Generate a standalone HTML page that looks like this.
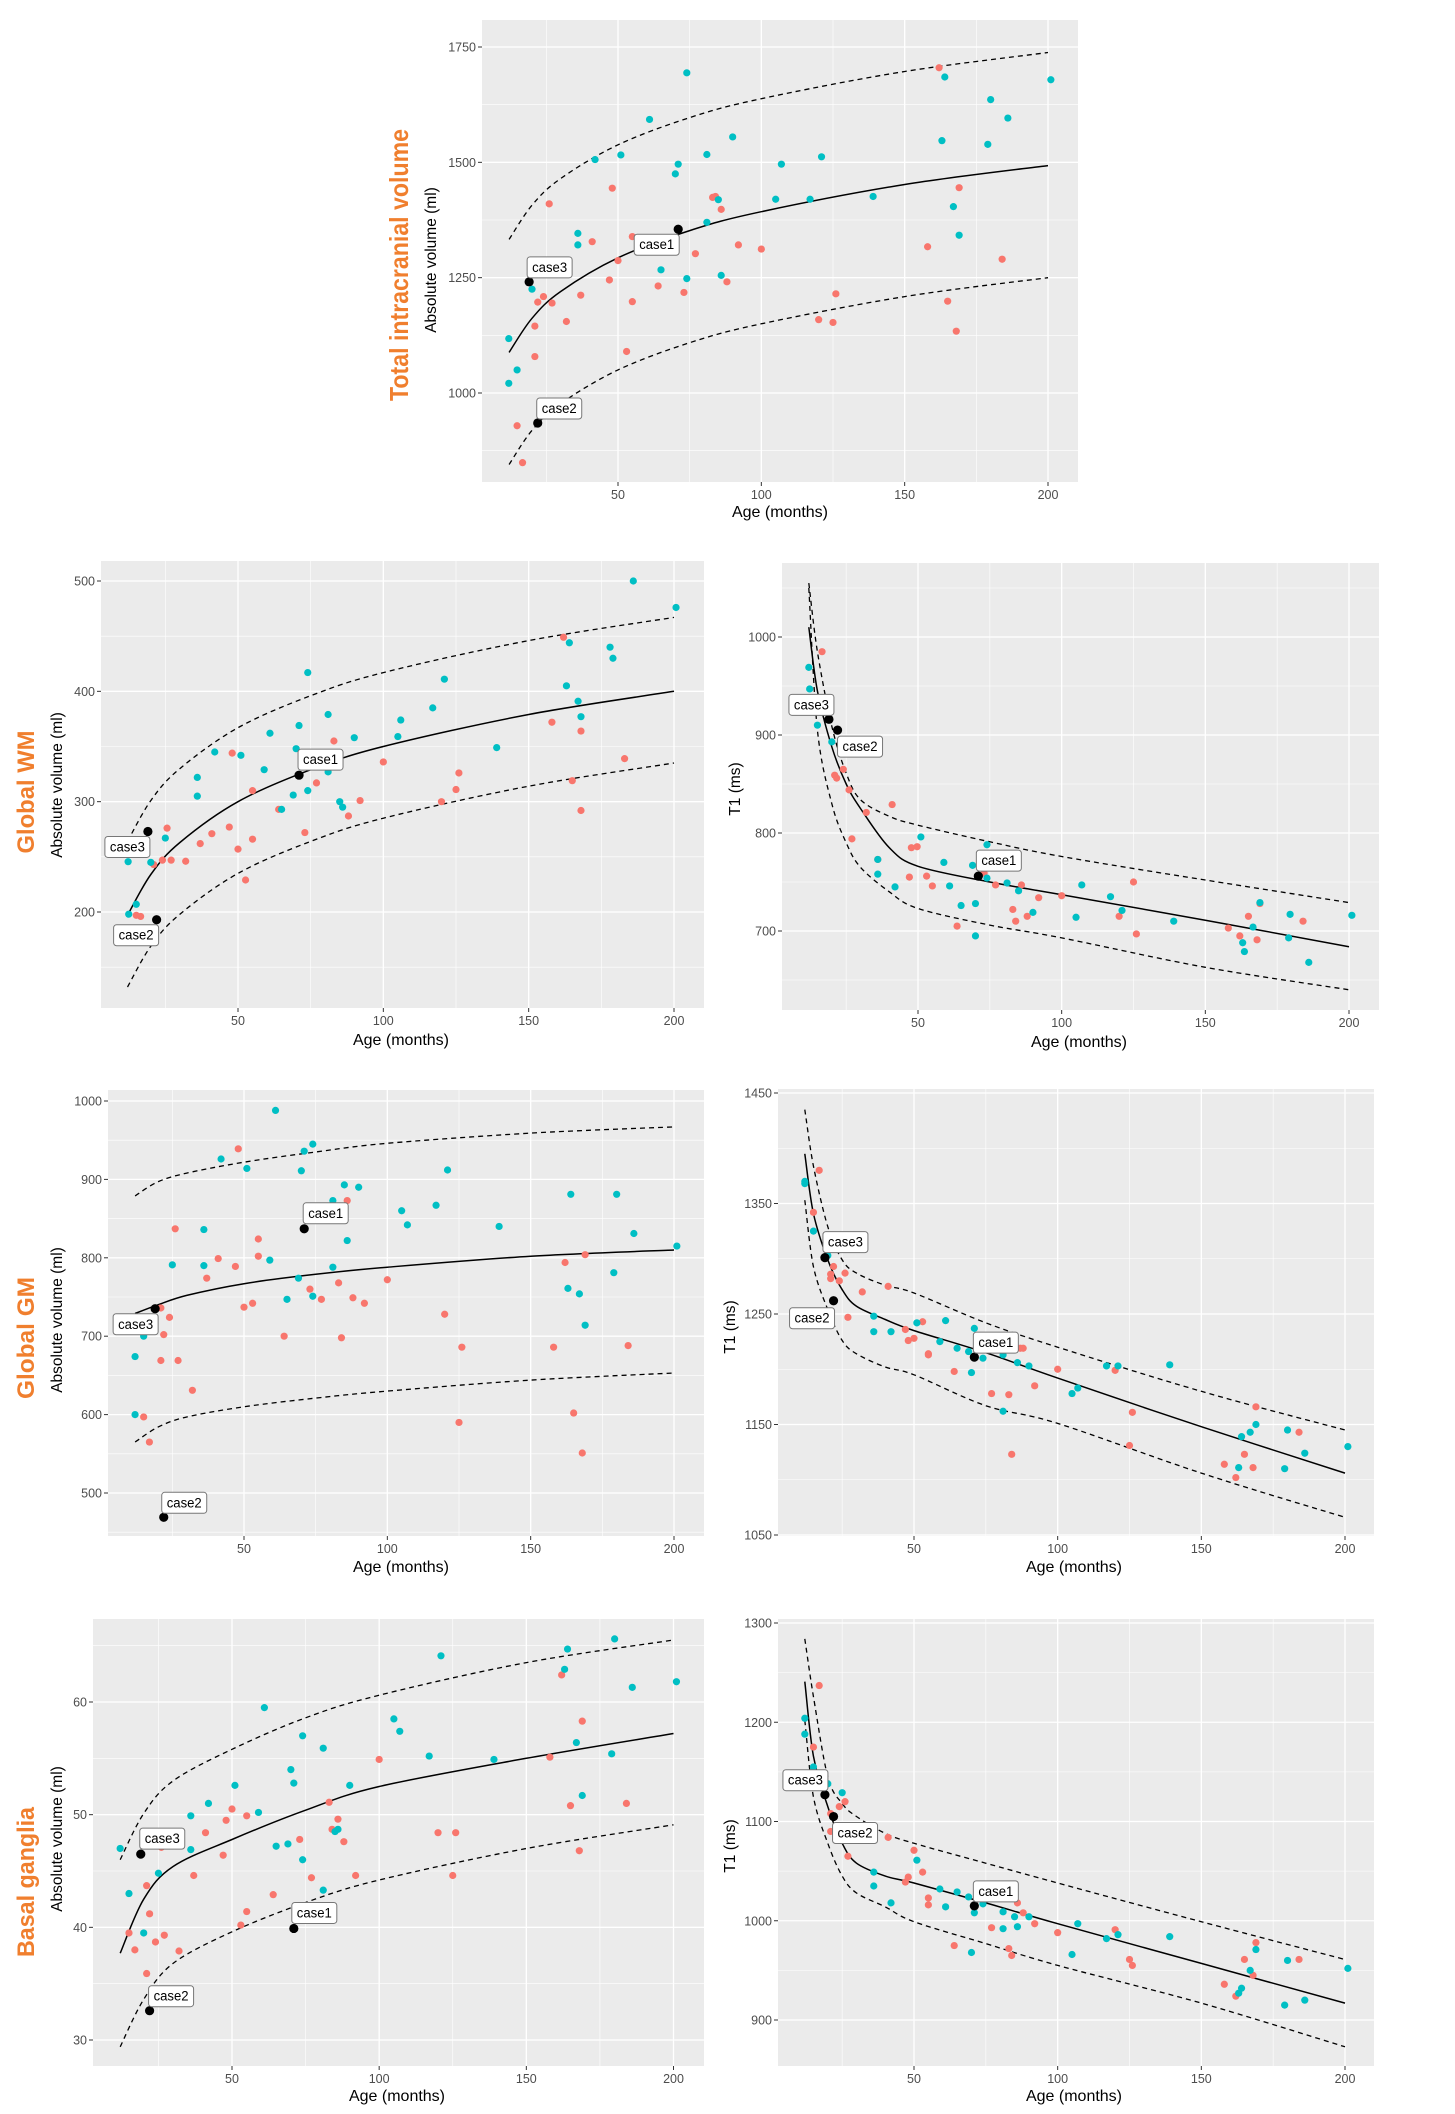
<!DOCTYPE html>
<html><head><meta charset="utf-8"><title>Brain volume and T1 charts</title>
<style>
html,body{margin:0;padding:0;background:#fff;}
svg{display:block;font-family:"Liberation Sans",Arial,sans-serif;}
</style></head>
<body>
<svg id="fig" width="1455" height="2114" viewBox="0 0 1455 2114" xmlns="http://www.w3.org/2000/svg">
<rect x="0" y="0" width="1455" height="2114" fill="#fff"/>
<text transform="translate(408,265) rotate(-90)" text-anchor="middle" font-size="26" font-weight="bold" fill="#F07F2E" textLength="272" lengthAdjust="spacingAndGlyphs">Total intracranial volume</text>
<text transform="translate(34,792) rotate(-90)" text-anchor="middle" font-size="24" font-weight="bold" fill="#F07F2E" textLength="123" lengthAdjust="spacingAndGlyphs">Global WM</text>
<text transform="translate(34,1338) rotate(-90)" text-anchor="middle" font-size="24" font-weight="bold" fill="#F07F2E" textLength="122" lengthAdjust="spacingAndGlyphs">Global GM</text>
<text transform="translate(34,1882) rotate(-90)" text-anchor="middle" font-size="24" font-weight="bold" fill="#F07F2E" textLength="150" lengthAdjust="spacingAndGlyphs">Basal ganglia</text>
</svg>
<script>
// ---------- DATA ----------
// Total intracranial volume
const tivCyanAge=[11.9,14.8,11.9,20,36,36,42,51,61,74,70,71,81,81,85,90,65,74,86,105,107,117,121,139,164,163,167,169,179,180,186,201];
const tivCyanVal=[1118,1050,1021,1225,1346,1321,1506,1516,1593,1694,1475,1496,1517,1370,1419,1555,1267,1248,1255,1420,1496,1420,1512,1426,1685,1547,1404,1342,1539,1636,1596,1679];
const tivRedAge=[14.8,16.7,21,21,22,24,26,27,32,37,41,47,48,50,53,55,55,64,73,77,83,84,86,88,92,100,120,125,126,158,162,165,168,169,184];
const tivRedVal=[929,849,1145,1079,1197,1209,1410,1195,1155,1212,1328,1245,1444,1287,1090,1339,1198,1232,1218,1302,1424,1426,1398,1241,1321,1312,1159,1153,1215,1317,1705,1199,1134,1445,1290];
const tivCaseAge=[71,22,19];
const tivCaseVal=[1355,935,1241];
const tivCurveAge=[12,20,30,50,75,100,150,200];
const tivMean=[1088,1162,1220,1293,1352,1393,1452,1493];
const tivUpper=[1333,1407,1465,1538,1597,1638,1697,1738];
const tivLower=[845,919,977,1050,1109,1150,1209,1250];
const tivYTicks=[1000,1250,1500,1750];

// Global WM volume
const wmvCyanAge=[12.2,15,12.4,20,25,36,36,42,51,59,61,65,69,70,71,74,74,81,81,85,86,90,105,106,117,121,139,163,164,167,168,178,179,186,200.7];
const wmvCyanVal=[245.6,207,198,245,267,322,305,345,342,329,362,293,306,348,369,417,310,327,379,300,295,358,359,374,385,411,349,405,444,391,377,440,430,500,476];
const wmvRedAge=[15,16.5,21,24,25.6,27,32,37,41,47,48,50,52.6,55,55,64,73,77,83,85,88,92,100,120,125,126,158,162,165,168,168,183];
const wmvRedVal=[197,196,243,247,276,247,246,262,271,277,344,257,229,266,310,293,272,317,355,332,287,301,336,300,311,326,372,449,319,292,364,339];
const wmvCaseAge=[71,22,19];
const wmvCaseVal=[324,193,273];
const wmvCurveAge=[12,20,30,50,75,100,150,200];
const wmvMean=[197,234,263,300,329,350,379,400];
const wmvUpper=[264,301,330,367,396,417,446,467];
const wmvLower=[132,169,198,235,264,285,314,335];
const wmvYTicks=[200,300,400,500];

// Global WM T1
const wmtCyanAge=[12,12.3,15,20,36,36,42,51,59,61,65,69,70,70,74,74,81,85,90,105,107,117,121,139,163,163.6,166.6,169,179,179.5,186,201];
const wmtCyanVal=[969,947,910,893,758,773,745,796,770,746,726,767,728,695,754,788,749,741,719,714,747,735,721,710,688,679,704,729,693,717,668,716];
const wmtRedAge=[16.6,21,21.7,24,26,27,32,36,41,47,47.7,49.7,53,55,63.6,73,77,83,84,86,88,92,100,120,125,126,158,162,165,168,169,184];
const wmtRedVal=[985,859,856,865,844,794,821,773,829,755,785,786,756,746,705,759,747,722,710,747,715,734,736,715,750,697,703,695,715,691,728,710];
const wmtCaseAge=[71,22,19];
const wmtCaseVal=[756,905,916];
const wmtCurveAge=[12,15,20,25,30,40,50,75,100,150,200];
const wmtMean=[1010,945,888,850,825,785,766,750,737,711,684];
const wmtUpper=[1055,985,909,861,834,817,808,791,776,752,729];
const wmtLower=[1050,905,830,790,765,740,723,706,693,663,640];
const wmtYTicks=[700,800,900,1000];

// Global GM volume
const gmvCyanAge=[12,15,12,25,36,36,42,51,59,61,65,69,70,71,74,74,81,81,85,86,90,105,107,117,121,139,163,164,167,169,179,180,186,201];
const gmvCyanVal=[674,700,600,791,836,790,926,914,797,988,747,774,911,936,945,751,873,788,893,822,890,860,842,867,912,840,761,881,754,714,781,881,831,815];
const gmvRedAge=[15,17,21,21,22,24,26,27,32,37,41,47,48,50,53,55,55,64,73,77,83,84,86,88,92,100,120,125,126,158,162,165,168,169,184];
const gmvRedVal=[597,565,736,669,702,724,837,669,631,774,799,789,939,737,742,824,802,700,760,747,768,698,873,749,742,772,728,590,686,686,794,602,551,804,688];
const gmvCaseAge=[71,22,19];
const gmvCaseVal=[837,469,735];
const gmvCurveAge=[12,20,30,50,75,100,150,200];
const gmvMean=[729,740,752,767,779,788,802,810];
const gmvUpper=[879,897,908,922,935,946,959,967];
const gmvLower=[565,584,597,610,621,630,644,653];
const gmvYTicks=[500,600,700,800,900,1000];

// Global GM T1
const gmtCyanAge=[12,12,15,20,36,36,42,51,59,61,65,69,70,71,74,81,81,86,90,105,107,117,121,139,163,164,167,169,179,180,186,201];
const gmtCyanVal=[1370,1368,1325,1303,1248,1234,1234,1242,1225,1244,1219,1216,1197,1237,1210,1213,1162,1206,1203,1178,1183,1203,1203,1204,1111,1139,1143,1150,1110,1145,1124,1130];
const gmtRedAge=[17,15,21,21,22,24,26,27,32,41,47,48,50,53,55,55,64,77,83,84,87,88,92,100,120,126,125,158,162,165,168,169,184];
const gmtRedVal=[1380,1342,1286,1282,1293,1280,1287,1247,1270,1275,1236,1226,1228,1243,1214,1213,1198,1178,1177,1123,1219,1219,1185,1200,1199,1161,1131,1114,1102,1123,1111,1166,1143];
const gmtCaseAge=[71,22,19];
const gmtCaseVal=[1211,1262,1301];
const gmtCurveAge=[12,15,20,25,30,40,50,75,100,150,200];
const gmtMean=[1395,1341,1299,1272,1257,1245,1235,1215,1192,1148,1106];
const gmtUpper=[1435,1384,1329,1299,1287,1276,1269,1242,1220,1180,1145];
const gmtLower=[1353,1293,1254,1226,1214,1202,1195,1167,1151,1106,1066];
const gmtYTicks=[1050,1150,1250,1350,1450];

// Basal ganglia volume
const bgvCyanAge=[12,15,20,25,36,36,42,51,59,61,65,69,70,71,74,74,81,81,85,86,90,105,107,117,121,139,163,164,167,169,179,180,186,201];
const bgvCyanVal=[47.0,43.0,39.5,44.8,49.9,46.9,51.0,52.6,50.2,59.5,47.2,47.4,54.0,52.8,57.0,46.0,55.9,43.3,48.5,48.7,52.6,58.5,57.4,55.2,64.1,54.9,62.9,64.7,56.4,51.7,55.4,65.6,61.3,61.8];
const bgvRedAge=[15,17,21,21,22,24,26,27,32,37,41,47,48,50,53,55,55,64,73,77,83,84,86,88,92,100,120,125,126,158,162,165,168,169,184];
const bgvRedVal=[39.5,38.0,43.7,35.9,41.2,38.7,47.1,39.3,37.9,44.6,48.4,46.4,49.5,50.5,40.2,49.9,41.4,42.9,47.8,44.4,51.1,48.7,49.6,47.6,44.6,54.9,48.4,44.6,48.4,55.1,62.4,50.8,46.8,58.3,51.0];
const bgvCaseAge=[71,22,19];
const bgvCaseVal=[39.9,32.6,46.5];
const bgvCurveAge=[12,20,30,50,75,100,150,200];
const bgvMean=[37.7,42.5,45.4,47.8,50.4,52.5,55.0,57.2];
const bgvUpper=[46.0,50.1,53.0,55.8,58.6,60.6,63.5,65.5];
const bgvLower=[29.4,33.6,36.8,39.6,42.2,44.2,47.0,49.1];
const bgvYTicks=[30,40,50,60];

// Basal ganglia T1
const bgtCyanAge=[12,12,15,20,25,36,36,42,51,59,61,65,69,70,71,74,81,81,85,86,90,105,107,117,121,139,163,164,167,169,179,180,186,201];
const bgtCyanVal=[1204,1188,1155,1138,1129,1049,1035,1018,1061,1032,1014,1029,1024,968,1008,1017,1009,992,1004,994,1004,966,997,982,986,984,927,932,950,971,915,960,920,952];
const bgtRedAge=[17,15,21,22,24,26,21,27,41,47,48,50,53,55,55,64,77,83,84,86,88,92,100,120,125,126,158,162,165,168,169,184];
const bgtRedVal=[1237,1175,1108,1105,1115,1120,1090,1065,1084,1039,1044,1071,1049,1023,1016,975,993,972,965,1018,1008,997,988,991,961,955,936,924,961,945,978,961];
const bgtCaseAge=[71,22,19];
const bgtCaseVal=[1015,1105,1127];
const bgtCurveAge=[12,15,20,25,30,40,50,75,100,150,200];
const bgtMean=[1241,1166,1115,1078,1058,1045,1038,1018,997,957,917];
const bgtUpper=[1284,1226,1145,1118,1105,1088,1078,1058,1038,999,961];
const bgtLower=[1202,1125,1078,1045,1028,1014,999,977,955,917,873];
const bgtYTicks=[900,1000,1100,1200,1300];

const xTicks=[50,100,150,200];
const caseNames=['case1','case2','case3'];

// ---------- DRAW ----------
const NS='http://www.w3.org/2000/svg';
const svg=document.getElementById('fig');
function mk(tag,attrs,parent){const e=document.createElementNS(NS,tag);for(const k in attrs)e.setAttribute(k,attrs[k]);(parent||svg).appendChild(e);return e;}

function catmull(pts){
  let d='M'+pts[0][0].toFixed(1)+','+pts[0][1].toFixed(1);
  for(let i=0;i<pts.length-1;i++){
    const p0=pts[Math.max(0,i-1)],p1=pts[i],p2=pts[i+1],p3=pts[Math.min(pts.length-1,i+2)];
    const c1=[p1[0]+(p2[0]-p0[0])/6,p1[1]+(p2[1]-p0[1])/6];
    const c2=[p2[0]-(p3[0]-p1[0])/6,p2[1]-(p3[1]-p1[1])/6];
    d+=' C'+c1[0].toFixed(1)+','+c1[1].toFixed(1)+' '+c2[0].toFixed(1)+','+c2[1].toFixed(1)+' '+p2[0].toFixed(1)+','+p2[1].toFixed(1);
  }
  return d;
}

const panels=[
 {key:'tiv',bg:[482,20,1078,482],x50:618,x200:1048,yA:[1750,47],yB:[1000,393],yTicks:tivYTicks,
  cyan:[tivCyanAge,tivCyanVal],red:[tivRedAge,tivRedVal],cases:[tivCaseAge,tivCaseVal],
  curve:[tivCurveAge,tivMean,tivUpper,tivLower],ytitle:'Absolute volume (ml)',ytx:436,yty:260,xtx:780,xty:517,
  lab:[[-44,5],[-1,-25],[-2,-25]]},
 {key:'wm-volume',bg:[101,561,704,1008],x50:238,x200:674,yA:[500,581],yB:[200,912],yTicks:wmvYTicks,
  cyan:[wmvCyanAge,wmvCyanVal],red:[wmvRedAge,wmvRedVal],cases:[wmvCaseAge,wmvCaseVal],
  curve:[wmvCurveAge,wmvMean,wmvUpper,wmvLower],ytitle:'Absolute volume (ml)',ytx:62,yty:785,xtx:401,xty:1045,
  lab:[[-1,-26],[-43,5],[-43,5]]},
 {key:'wm-t1',bg:[782,563,1379,1010],x50:918,x200:1349,yA:[1000,637],yB:[700,931],yTicks:wmtYTicks,
  cyan:[wmtCyanAge,wmtCyanVal],red:[wmtRedAge,wmtRedVal],cases:[wmtCaseAge,wmtCaseVal],
  curve:[wmtCurveAge,wmtMean,wmtUpper,wmtLower],ytitle:'T1 (ms)',ytx:740,yty:789,xtx:1079,xty:1047,
  lab:[[-2,-26],[0,6],[-40,-25]]},
 {key:'gm-volume',bg:[108,1090,704,1536],x50:244,x200:674,yA:[1000,1101],yB:[500,1493],yTicks:gmvYTicks,
  cyan:[gmvCyanAge,gmvCyanVal],red:[gmvRedAge,gmvRedVal],cases:[gmvCaseAge,gmvCaseVal],
  curve:[gmvCurveAge,gmvMean,gmvUpper,gmvLower],ytitle:'Absolute volume (ml)',ytx:62,yty:1320,xtx:401,xty:1572,
  lab:[[-1,-26],[-2,-25],[-42,5]]},
 {key:'gm-t1',bg:[778,1089,1374,1536],x50:914,x200:1345,yA:[1450,1093],yB:[1050,1535],yTicks:gmtYTicks,
  cyan:[gmtCyanAge,gmtCyanVal],red:[gmtRedAge,gmtRedVal],cases:[gmtCaseAge,gmtCaseVal],
  curve:[gmtCurveAge,gmtMean,gmtUpper,gmtLower],ytitle:'T1 (ms)',ytx:735,yty:1327,xtx:1074,xty:1572,
  lab:[[-1,-25],[-44,7],[-2,-26]]},
 {key:'bg-volume',bg:[93,1619,704,2066],x50:232,x200:673.5,yA:[60,1702],yB:[30,2040],yTicks:bgvYTicks,
  cyan:[bgvCyanAge,bgvCyanVal],red:[bgvRedAge,bgvRedVal],cases:[bgvCaseAge,bgvCaseVal],
  curve:[bgvCurveAge,bgvMean,bgvUpper,bgvLower],ytitle:'Absolute volume (ml)',ytx:62,yty:1839,xtx:397,xty:2101,
  lab:[[-2,-26],[-1,-25],[-1,-26]]},
 {key:'bg-t1',bg:[778,1619,1374,2066],x50:914,x200:1345,yA:[1300,1623],yB:[900,2020],yTicks:bgtYTicks,
  cyan:[bgtCyanAge,bgtCyanVal],red:[bgtRedAge,bgtRedVal],cases:[bgtCaseAge,bgtCaseVal],
  curve:[bgtCurveAge,bgtMean,bgtUpper,bgtLower],ytitle:'T1 (ms)',ytx:735,yty:1846,xtx:1074,xty:2101,
  lab:[[-1,-25],[-1,6],[-42,-25]]}
];

panels.forEach(p=>{
  const g=mk('g',{});
  
  
  const [x0,y0,x1,y1]=p.bg;
  const sx=v=>p.x50+(v-50)*(p.x200-p.x50)/150;
  const sy=v=>p.yA[1]+(v-p.yA[0])*(p.yB[1]-p.yA[1])/(p.yB[0]-p.yA[0]);
  const bg=mk('rect',{x:x0,y:y0,width:x1-x0,height:y1-y0,fill:'#EBEBEB'},g);
  
  
  const step=p.yTicks[1]-p.yTicks[0];
  const minorY=[];
  for(let v=p.yTicks[0]-step/2;v<=p.yTicks[p.yTicks.length-1]+step;v+=step)minorY.push(v);
  minorY.forEach(v=>{const y=sy(v);if(y>y0&&y<y1)mk('line',{x1:x0,x2:x1,y1:y,y2:y,stroke:'#fff','stroke-width':0.6},g);});
  [25,75,125,175].forEach(v=>{const x=sx(v);if(x>x0&&x<x1)mk('line',{x1:x,x2:x,y1:y0,y2:y1,stroke:'#fff','stroke-width':0.6},g);});
  p.yTicks.forEach(v=>{const y=sy(v);
    mk('line',{x1:x0,x2:x1,y1:y,y2:y,stroke:'#fff','stroke-width':1.3},g);
    mk('line',{x1:x0-4,x2:x0,y1:y,y2:y,stroke:'#333','stroke-width':1},g);
    const t=mk('text',{x:x0-6,y:y+4.5,'text-anchor':'end','font-size':12.5,fill:'#4D4D4D'},g);t.textContent=v;
    
    
  });
  xTicks.forEach(v=>{const x=sx(v);
    mk('line',{x1:x,x2:x,y1:y0,y2:y1,stroke:'#fff','stroke-width':1.3},g);
    mk('line',{x1:x,x2:x,y1:y1,y2:y1+4,stroke:'#333','stroke-width':1},g);
    const t=mk('text',{x:x,y:y1+17,'text-anchor':'middle','font-size':12.5,fill:'#4D4D4D'},g);t.textContent=v;
    
    
  });
  const [ca,cm,cu,cl]=p.curve;
  const line=(vals,dash,name)=>{
    const pts=ca.map((a,i)=>[sx(a),sy(vals[i])]);
    const path=mk('path',{d:catmull(pts),fill:'none',stroke:'#000','stroke-width':dash?1.3:1.5},g);
    if(dash)path.setAttribute('stroke-dasharray','5,4');
    
    
  };
  line(cm,false,'mean-curve');line(cu,true,'upper-bound-curve');line(cl,true,'lower-bound-curve');
  const pts=(arr,color,name)=>{arr[0].forEach((a,i)=>{
    const c=mk('circle',{cx:sx(a),cy:sy(arr[1][i]),r:3.6,fill:color},g);
    
    
  });};
  pts(p.red,'#F8766D','red-point');
  pts(p.cyan,'#00BFC4','cyan-point');
  p.cases[0].forEach((a,i)=>{
    const px=sx(a),py=sy(p.cases[1][i]);
    const c=mk('circle',{cx:px,cy:py,r:4.6,fill:'#000'},g);
    
    
    const bx=px+p.lab[i][0],by=py+p.lab[i][1];
    const lg=mk('g',{},g);
    
    
    mk('rect',{x:bx,y:by,width:45,height:21,rx:3,fill:'#fff',stroke:'#777','stroke-width':1},lg);
    const t=mk('text',{x:bx+22.5,y:by+15,'text-anchor':'middle','font-size':13.5,fill:'#000',textLength:35,lengthAdjust:'spacingAndGlyphs'},lg);
    t.textContent=caseNames[i];
  });
  const xt=mk('text',{x:p.xtx,y:p.xty,'text-anchor':'middle','font-size':16,fill:'#000'},g);
  xt.textContent='Age (months)';
  
  
  const yt=mk('text',{transform:'translate('+p.ytx+','+p.yty+') rotate(-90)','text-anchor':'middle','font-size':15.5,fill:'#000'},g);
  yt.textContent=p.ytitle;
  
  
});
</script>
</body></html>
